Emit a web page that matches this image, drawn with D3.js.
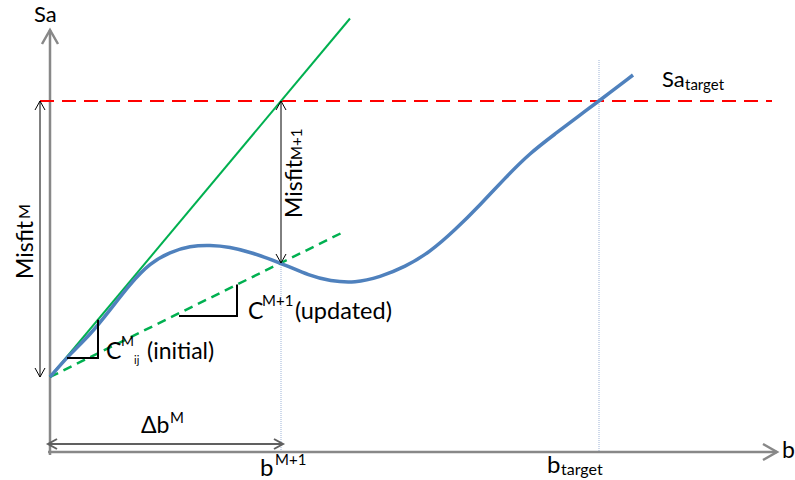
<!DOCTYPE html>
<html>
<head>
<meta charset="utf-8">
<script src="https://cdn.jsdelivr.net/npm/d3@7"></script>
<style>
  body { margin: 0; background: #fff; }
  text { font-family: Lato, "Open Sans", sans-serif; fill: #000; }
</style>
</head>
<body>
<div id="chart"></div>
<script>
// Sa(b) response curve, plot units (b from the Sa axis, Sa from the b axis)
const bVals  = [0, 20, 40, 60, 80, 100, 120, 140, 160, 180, 200, 231, 260, 280, 305, 330, 355, 380, 405, 430, 455, 480, 505, 530, 549, 583]
const saVals = [75, 98, 117, 142, 168, 189, 200, 206, 207, 205, 200, 189, 176, 171, 169, 175, 185, 200, 222, 247, 274, 299, 318, 337, 351, 377]

const saStart = 75, saTarget = 351
const bNext = 231, bTarget = 549
const slopeInit = 1.195, slopeUpd = 0.494
const bInitEnd = 300, bUpdEnd = 292

// slope triangles [b0, b1, Sa]
const triInit = [17, 48, 94]
const triUpd = [129, 187, 136]

const width = 795, height = 480

let x = d3.scaleLinear().domain([0, 727]).range([50, 777])
let y = d3.scaleLinear().domain([0, 422]).range([452, 30])

let svg = d3.select("#chart").append("svg")
  .attr("width", width)
  .attr("height", height)

const line = (pts, color, w, dash) => {
  svg.append("path")
    .attr("d", d3.line()(pts))
    .attr("fill", "none")
    .attr("stroke", color)
    .attr("stroke-width", w)
    .attr("stroke-dasharray", dash || null)
}

// chevron head at tip (tx,ty) pointing along angle
const head = (tx, ty, ang, len, half, color, w) => {
  let c = Math.cos(ang), s = Math.sin(ang)
  let p1 = [tx - len * c - half * s, ty - len * s + half * c]
  let p2 = [tx - len * c + half * s, ty - len * s - half * c]
  line([p1, [tx, ty], p2], color, w)
}

// guide lines
line([[x(bNext), y(189)], [x(bNext), y(0)]], "#9db3d6", 1, "1,1")
line([[x(bTarget), y(392)], [x(bTarget), y(0)]], "#9db3d6", 1, "1,1")

// axes
line([[x(0), y(-3)], [x(0), y(422)]], "#888", 2.5)
head(x(0), y(422), -Math.PI / 2, 14, 8, "#888", 2.5)
line([[x(-2), y(0)], [x(727), y(0)]], "#888", 2.5)
head(x(727), y(0), 0, 14, 8, "#888", 2.5)

// target line
line([[x(-10), y(saTarget)], [x(722), y(saTarget)]], "#ff0000", 2.2, "14,8")

// tangent lines
line([[x(0), y(saStart)], [x(bInitEnd), y(saStart + slopeInit * bInitEnd)]], "#00b050", 2)
line([[x(0), y(saStart)], [x(bUpdEnd), y(saStart + slopeUpd * bUpdEnd)]], "#00b050", 2.5, "9,6")

// response curve
svg.append("path")
  .datum(bVals.map((b, i) => [b, saVals[i]]))
  .attr("d", d3.line().x(d => x(d[0])).y(d => y(d[1])).curve(d3.curveBasis))
  .attr("fill", "none")
  .attr("stroke", "#4f81bd")
  .attr("stroke-width", 3.5)

// slope triangles
;[triInit, triUpd].forEach(t => {
  let s = t === triInit ? slopeInit : slopeUpd
  line([[x(t[0]), y(t[2])], [x(t[1]), y(t[2])], [x(t[1]), y(saStart + s * t[1])]], "#000", 2)
})

// misfit arrows
const vArrow = (xp, ya, yb, color, w) => {
  line([[xp, ya], [xp, yb]], color, w)
  head(xp, ya, -Math.PI / 2, 9, 5, color, w)
  head(xp, yb, Math.PI / 2, 9, 5, color, w)
}
vArrow(x(-10), y(saTarget), y(saStart), "#000", 1)
vArrow(x(bNext), y(saTarget), y(189), "#000", 1)

// delta b arrow
line([[x(-2), y(8)], [x(bNext + 2), y(8)]], "#606060", 2)
head(x(-2), y(8), Math.PI, 9, 5, "#606060", 2)
head(x(bNext + 2), y(8), 0, 9, 5, "#606060", 2)

// labels: parts are [text, size, dx, dy] relative to the anchor
const label = (tx, ty, parts, rot) => {
  let t = svg.append("text")
  if (rot) t.attr("transform", `rotate(-90,${tx},${ty})`)
  parts.forEach(p => {
    t.append("tspan").text(p[0])
      .attr("x", tx + (p[2] || 0))
      .attr("y", ty + (p[3] || 0))
      .style("font-size", p[1] + "px")
  })
  return t
}

label(34, 22, [["Sa", 22]])
label(782, 458, [["b", 23]])
label(662, 87, [["Sa", 22], ["target", 15, 23, 3]])
label(547, 473, [["b", 24], ["target", 16, 14, 2]])
label(260, 476, [["b", 24], ["M+1", 15, 15, -11]])
label(141, 433, [["\u0394b", 23], ["M", 15, 29, -10]])
label(33, 279, [["Misfit", 23], ["M", 16, 60, -3]], true)
label(302, 218, [["Misfit", 23], ["M+1", 15, 58]], true)
label(106, 359, [["C", 23], ["M", 14, 15, -13], ["ij", 11, 28, 5], ["(initial)", 23, 41]])
label(248, 319, [["C", 23], ["M+1", 15, 14, -13], ["(updated)", 23.5, 47]])
</script>
</body>
</html>
